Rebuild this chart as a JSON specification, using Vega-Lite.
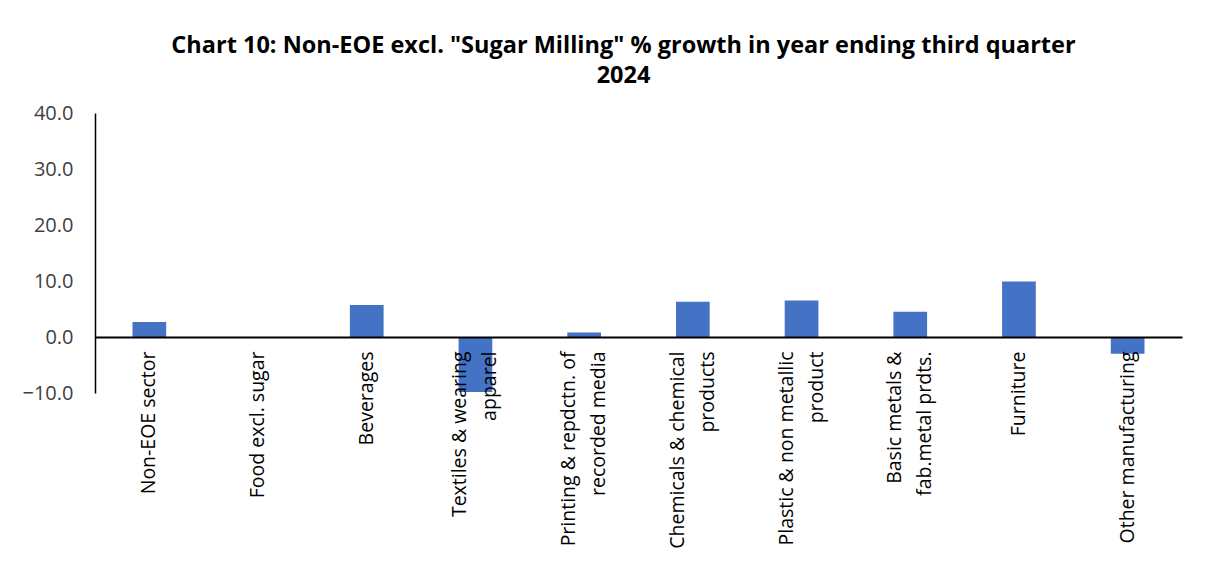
{
  "$schema": "https://vega.github.io/schema/vega-lite/v6.json",
  "width": 1087,
  "height": 280,
  "autosize": "none",
  "padding": {"left": 95, "top": 113, "right": 25, "bottom": 169},
  "background": "white",
  "title": {
    "text": ["Chart 10: Non-EOE excl. \"Sugar Milling\" % growth in year ending third quarter", "2024"],
    "font": "Open Sans",
    "fontSize": 23.5,
    "fontWeight": "bold",
    "color": "#000000",
    "lineHeight": 30,
    "anchor": "middle",
    "dx": -15,
    "offset": 16
  },
  "data": {
    "values": [
      {"sector": "Non-EOE sector", "growth": 2.7},
      {"sector": "Food excl. sugar", "growth": 0.0},
      {"sector": "Beverages", "growth": 5.7},
      {"sector": "Textiles & wearing|apparel", "growth": -9.8},
      {"sector": "Printing & repdctn. of|recorded media", "growth": 0.8},
      {"sector": "Chemicals & chemical|products", "growth": 6.3},
      {"sector": "Plastic & non metallic|product", "growth": 6.5},
      {"sector": "Basic metals &|fab.metal prdts.", "growth": 4.5},
      {"sector": "Furniture", "growth": 9.9},
      {"sector": "Other manufacturing", "growth": -3.0}
    ]
  },
  "mark": {"type": "bar", "color": "#4472C4"},
  "encoding": {
    "x": {
      "field": "sector",
      "type": "nominal",
      "sort": null,
      "scale": {"paddingInner": 0.69, "paddingOuter": 0.345},
      "axis": {
        "title": null,
        "orient": "bottom",
        "offset": -56,
        "domainColor": "#000000",
        "domainWidth": 2,
        "ticks": false,
        "labelAngle": -90,
        "labelAlign": "right",
        "labelBaseline": "middle",
        "labelPadding": 14,
        "labelFont": "Open Sans",
        "labelFontSize": 19.5,
        "labelColor": "#000000",
        "labelLimit": 0,
        "labelLineHeight": 30,
        "labelOffset": {"condition": {"test": "indexof(datum.value, '|') >= 0", "value": -15}, "value": 0},
        "labelExpr": "split(datum.value, '|')",
        "zindex": 1
      }
    },
    "y": {
      "field": "growth",
      "type": "quantitative",
      "scale": {"domain": [-10, 40], "nice": false},
      "axis": {
        "title": null,
        "values": [-10, 0, 10, 20, 30, 40],
        "format": ".1f",
        "grid": false,
        "ticks": false,
        "domainColor": "#000000",
        "domainWidth": 1.5,
        "labelPadding": 22,
        "labelFont": "Open Sans",
        "labelFontSize": 20,
        "labelColor": "#404040"
      }
    }
  },
  "config": {"view": {"stroke": null}}
}
